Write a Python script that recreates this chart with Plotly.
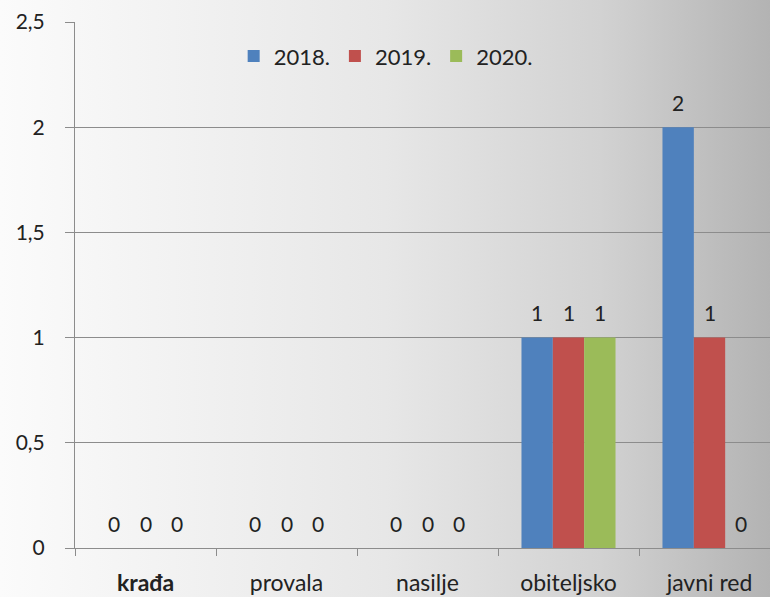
import plotly.graph_objects as go

categories = ["krađa", "provala", "nasilje", "obiteljsko", "javni red"]
tick_labels = ["<b>krađa</b>", "provala", "nasilje", "obiteljsko", "javni red"]
series_names = ["2018.", "2019.", "2020."]
values_2018 = [0, 0, 0, 1, 2]
values_2019 = [0, 0, 0, 1, 1]
values_2020 = [0, 0, 0, 1, 0]
y_ticks = [0, 0.5, 1, 1.5, 2, 2.5]

colors = ["#4f81bd", "#c0504d", "#9bbb59"]
FONT = "Lato, 'Open Sans', sans-serif"

W, H = 770, 597
ML, MR, MT, MB = 75, 0, 22, 49
PW, PH = W - ML - MR, H - MT - MB
CAT_PX = 141.0
BARGAP = 0.333
BAR_PX = CAT_PX * (1 - BARGAP) / 3

fig = go.Figure()
all_vals = [values_2018, values_2019, values_2020]
for name, vals, col in zip(series_names, all_vals, colors):
    fig.add_trace(go.Bar(
        name=name, x=categories, y=vals, marker=dict(color=col, line=dict(width=0)),
        hoverinfo="x+y+name",
    ))

annotations = []
for i, vals in enumerate(all_vals):
    for cat, v in zip(categories, vals):
        annotations.append(dict(
            x=cat, y=v, xref="x", yref="y", text=str(v), showarrow=False,
            xshift=(i - 1) * BAR_PX, yshift=25, yanchor="middle", xanchor="center",
            font=dict(family=FONT, size=21, color="#222222"),
        ))

svg = ("data:image/svg+xml;utf8,<svg xmlns='http://www.w3.org/2000/svg' width='770' height='597' "
       "preserveAspectRatio='none'><defs><linearGradient id='g' x1='0' y1='0' x2='1' y2='0'>"
       "<stop offset='0' stop-color='%23fbfbfb'/><stop offset='0.5' stop-color='%23e7e7e7'/>"
       "<stop offset='0.78' stop-color='%23d2d2d2'/><stop offset='1' stop-color='%23b3b3b3'/>"
       "</linearGradient></defs><rect width='770' height='597' fill='url(%23g)'/></svg>")

fig.update_layout(
    width=W, height=H,
    margin=dict(l=ML, r=MR, t=MT, b=MB, pad=0, autoexpand=False),
    paper_bgcolor="#f0f0f0", plot_bgcolor="rgba(0,0,0,0)",
    separators=", ",
    barmode="group", bargap=BARGAP, bargroupgap=0,
    font=dict(family=FONT, size=19, color="#222222"),
    showlegend=True,
    legend=dict(orientation="h", x=0.447, xanchor="center", y=0.935, yanchor="middle",
                font=dict(family=FONT, size=22, color="#222222"), bgcolor="rgba(0,0,0,0)",
                traceorder="normal"),
    annotations=annotations,
    images=[dict(source=svg, xref="paper", yref="paper", x=-ML / PW, y=1 + MT / PH,
                 sizex=W / PW, sizey=H / PH, sizing="stretch", xanchor="left", yanchor="top",
                 layer="below", opacity=1)],
    xaxis=dict(
        range=[-0.5, -0.5 + PW / CAT_PX], tickvals=categories, ticktext=tick_labels,
        tickson="boundaries", ticks="outside", ticklen=7, tickcolor="#8c8c8c",
        showline=True, linecolor="#8c8c8c", linewidth=1, showgrid=False,
        tickfont=dict(family=FONT, size=23, color="#222222"), ticklabelstandoff=14,
    ),
    yaxis=dict(
        range=[0, 2.5], tickvals=y_ticks, ticks="outside", ticklen=9, tickcolor="#8c8c8c",
        showline=True, linecolor="#8c8c8c", linewidth=1,
        showgrid=True, gridcolor="#8c8c8c", gridwidth=1, zeroline=False,
        tickfont=dict(family=FONT, size=21, color="#222222"), ticklabelstandoff=16,
    ),
)

fig.write_html("out.html", config={"displayModeBar": False})

with open("out.html", "r", encoding="utf-8") as f:
    html = f.read()
html = html.replace("<body>", "<body style=\"margin:0;padding:0;overflow:hidden\">", 1)
with open("out.html", "w", encoding="utf-8") as f:
    f.write(html)
